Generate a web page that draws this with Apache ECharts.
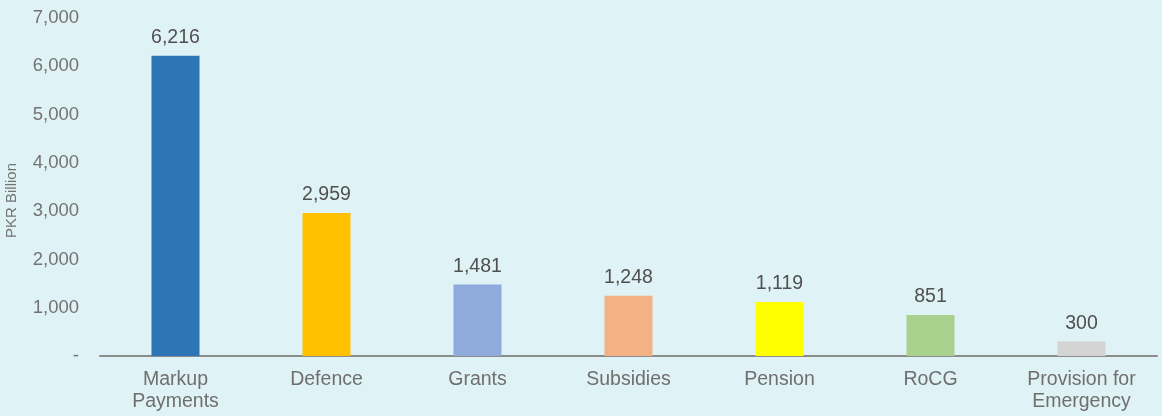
<!DOCTYPE html>
<html><head><meta charset="utf-8">
<script src="https://cdn.jsdelivr.net/npm/echarts@6/dist/echarts.min.js"></script>
<style>html,body{margin:0;padding:0;background:#dff2f5;}#c{width:1162px;height:416px;}</style>
</head><body><div id="c"></div>
<script>
const categories = ['Markup\nPayments','Defence','Grants','Subsidies','Pension','RoCG','Provision for\nEmergency'];
const values = [6216, 2959, 1481, 1248, 1119, 851, 300];
const barColors = ['#2e75b6','#ffc000','#8faadc','#f4b183','#ffff00','#a9d18e','#d4d4d4'];
const yTicks = {min:0, max:7000, interval:1000};
const yName = 'PKR Billion';

const chart = echarts.init(document.getElementById('c'));
chart.setOption({
  backgroundColor:'#dff2f5',
  animation:false,
  grid:{left:100,right:5,top:18,bottom:60,containLabel:false,outerBoundsMode:'none'},
  graphic:[{type:'text',left:4,top:163,rotation:Math.PI/2,
    style:{text:yName,fill:'#737373',font:'15px "Liberation Sans"'}}],
  xAxis:{type:'category',data:categories,
    axisLine:{lineStyle:{color:'#8c8c8c',width:2}},
    axisTick:{show:false},
    axisLabel:{color:'#6f6f6f',fontFamily:'Liberation Sans',fontSize:19.5,margin:13,lineHeight:22,interval:0}},
  yAxis:{type:'value',min:yTicks.min,max:yTicks.max,interval:yTicks.interval,
    splitLine:{show:false},axisLine:{show:false},axisTick:{show:false},
    axisLabel:{color:'#737373',fontFamily:'Liberation Sans',fontSize:18.5,margin:21,
      formatter:v=>v===0?'-':v.toLocaleString('en-US')}},
  series:[{type:'bar',barWidth:48,
    data:values.map((v,i)=>({value:v,itemStyle:{color:barColors[i]}})),
    label:{show:true,position:'top',distance:8,color:'#505050',fontFamily:'Liberation Sans',fontSize:19.5,
      formatter:p=>p.value.toLocaleString('en-US')}}]
});
</script></body></html>
